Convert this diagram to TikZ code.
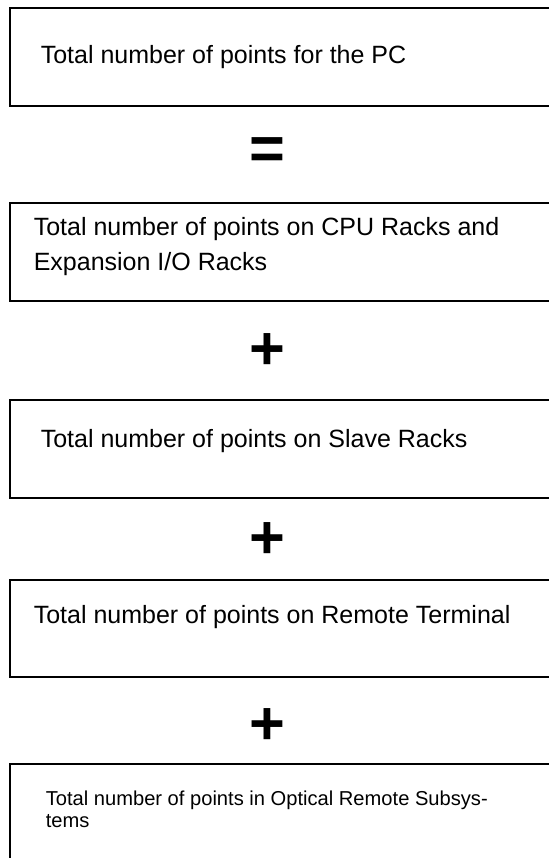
\documentclass[tikz,border=0pt]{standalone}
\usepackage{fontspec}
\setmainfont{Liberation Sans}
\begin{document}
\begin{tikzpicture}[x=0.75pt,y=-0.75pt,line width=1.2pt,
        lbl/.style={anchor=base west,inner sep=0pt,align=left,font=\fontsize{18.75}{26.25}\selectfont},
        lblklein/.style={lbl,font=\fontsize{15.1}{16.5}\selectfont},
        op/.style={inner sep=0pt,font=\fontsize{46}{46}\selectfont\bfseries}]
        \useasboundingbox (0,0) rectangle (549,858);
        \clip (0,0) rectangle (549,858);
        % Kaesten
        \draw (10,8) rectangle (600,106);
        \draw (10,203) rectangle (600,301);
        \draw (10,400) rectangle (600,498);
        \draw (10,580) rectangle (600,677);
        \draw (10,764) rectangle (600,900);
        % Operatoren
        \node[op] (gleich) at (267.5,154) {=};
        \node[op] (plusa) at (267.5,352) {+};
        \node[op] (plusb) at (267.5,541) {+};
        \node[op] (plusc) at (267.5,726.5) {+};
        % Beschriftung (Grundlinie der letzten Zeile)
        \node[lbl] (pc) at (40,63) {Total number of points for the PC};
        \node[lbl] (cpu) at (33,270) {Total number of points on CPU Racks and\\Expansion I/O Racks};
        \node[lbl] (slave) at (40,447) {Total number of points on Slave Racks};
        \node[lbl] (remote) at (33,623) {Total number of points on Remote Terminal};
        \node[lblklein] (optisch) at (45,827) {Total number of points in Optical Remote Subsys-\\tems};
\end{tikzpicture}
\end{document}
